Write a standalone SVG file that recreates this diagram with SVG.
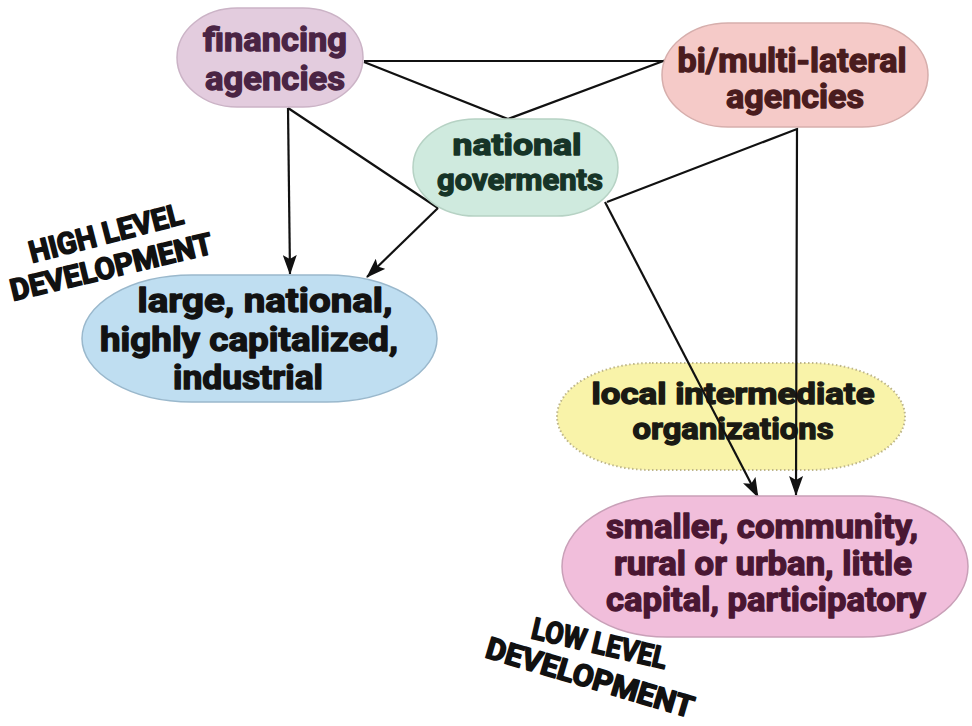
<svg xmlns="http://www.w3.org/2000/svg" width="972" height="726" viewBox="0 0 972 726">
<defs>
<style>
.t{font-family:Roboto,"DejaVu Sans","Liberation Sans",sans-serif;font-weight:bold;text-anchor:middle;stroke-width:1.3;stroke-linejoin:round}
.n{font-size:33px}
.s{font-size:29px}
.cap{font-family:Roboto,"DejaVu Sans","Liberation Sans",sans-serif;font-weight:bold;font-size:30px;fill:#111;stroke:#111;stroke-width:1.6;stroke-linejoin:round}
.c{stroke:#111;stroke-width:2.2;fill:none}
</style>
<marker id="a" viewBox="0 0 20 14" refX="19" refY="7" markerWidth="20" markerHeight="14" markerUnits="userSpaceOnUse" orient="auto">
<path d="M0,0 L20,7 L0,14 L4,7 Z" fill="#111"/>
</marker>
</defs>
<rect width="972" height="726" fill="#fff"/>

<g id="node-local">
<rect x="557" y="363" width="348" height="107" rx="95" ry="53.5" fill="#f9f3a9" stroke="#bdb58a" stroke-width="2" stroke-dasharray="1.5 2.5"/>
<text class="t s" fill="#1a1a14" stroke="#1a1a14" x="733" y="404" textLength="283" lengthAdjust="spacingAndGlyphs">local intermediate</text>
<text class="t s" fill="#1a1a14" stroke="#1a1a14" x="733" y="439" textLength="201" lengthAdjust="spacingAndGlyphs">organizations</text>
</g>

<g id="connectors">
<line class="c" x1="364" y1="61" x2="666" y2="61"/>
<polyline class="c" points="364,62 508,119 666,60"/>
<line class="c" x1="288" y1="108" x2="290" y2="274" marker-end="url(#a)"/>
<line class="c" x1="288" y1="108" x2="438" y2="208"/>
<line class="c" x1="438" y1="208" x2="367" y2="277" marker-end="url(#a)"/>
<polyline class="c" points="607,202 797,129 796,495" marker-end="url(#a)"/>
<line class="c" x1="605" y1="202" x2="758" y2="497" marker-end="url(#a)"/>
</g>

<g id="node-financing">
<rect x="177" y="8" width="186" height="99" rx="60" ry="49.5" fill="#e3ccde" stroke="#cbb3c6" stroke-width="1.5"/>
<text class="t n" fill="#4a2444" stroke="#4a2444" x="275" y="51" textLength="144" lengthAdjust="spacingAndGlyphs">financing</text>
<text class="t n" fill="#4a2444" stroke="#4a2444" x="275" y="90" textLength="140" lengthAdjust="spacingAndGlyphs">agencies</text>
</g>

<g id="node-bilateral">
<rect x="662" y="23" width="266" height="104" rx="66" ry="52" fill="#f5cac8" stroke="#d6aeac" stroke-width="1.5"/>
<text class="t n" fill="#4a1c1e" stroke="#4a1c1e" x="792" y="72" textLength="229" lengthAdjust="spacingAndGlyphs">bi/multi-lateral</text>
<text class="t n" fill="#4a1c1e" stroke="#4a1c1e" x="795" y="108" textLength="138" lengthAdjust="spacingAndGlyphs">agencies</text>
</g>

<g id="node-national">
<rect x="413" y="119" width="205" height="97" rx="62" ry="48.5" fill="#cfeade" stroke="#b6d2c4" stroke-width="1.5"/>
<text class="t s" fill="#163427" stroke="#163427" x="517" y="155" textLength="129" lengthAdjust="spacingAndGlyphs">national</text>
<text class="t s" fill="#163427" stroke="#163427" x="520" y="190" textLength="166" lengthAdjust="spacingAndGlyphs">goverments</text>
</g>

<g id="node-large">
<rect x="82" y="275" width="355" height="127" rx="110" ry="63.5" fill="#bfdef1" stroke="#9ab8cc" stroke-width="1.5"/>
<text class="t n" fill="#121212" stroke="#121212" x="265" y="312" textLength="255" lengthAdjust="spacingAndGlyphs">large, national,</text>
<text class="t n" fill="#121212" stroke="#121212" x="249" y="351" textLength="298" lengthAdjust="spacingAndGlyphs">highly capitalized,</text>
<text class="t n" fill="#121212" stroke="#121212" x="248" y="389" textLength="150" lengthAdjust="spacingAndGlyphs">industrial</text>
</g>

<g id="node-smaller">
<rect x="562" y="496" width="406" height="141" rx="105" ry="70.5" fill="#f1bedb" stroke="#c9a0b8" stroke-width="1.5"/>
<text class="t n" fill="#4a1733" stroke="#4a1733" x="762" y="538" textLength="312" lengthAdjust="spacingAndGlyphs">smaller, community,</text>
<text class="t n" fill="#4a1733" stroke="#4a1733" x="763" y="575" textLength="298" lengthAdjust="spacingAndGlyphs">rural or urban, little</text>
<text class="t n" fill="#4a1733" stroke="#4a1733" x="766" y="611" textLength="320" lengthAdjust="spacingAndGlyphs">capital, participatory</text>
</g>

<g id="label-high">
<text class="cap" transform="translate(32,263) rotate(-14.5)" textLength="158" lengthAdjust="spacingAndGlyphs">HIGH LEVEL</text>
<text class="cap" transform="translate(13,301) rotate(-13.4)" textLength="207" lengthAdjust="spacingAndGlyphs">DEVELOPMENT</text>
</g>

<g id="label-low">
<text class="cap" transform="translate(530,638) rotate(13)" textLength="138" lengthAdjust="spacingAndGlyphs">LOW LEVEL</text>
<text class="cap" transform="translate(484,657) rotate(16.5)" textLength="215" lengthAdjust="spacingAndGlyphs">DEVELOPMENT</text>
</g>
</svg>
